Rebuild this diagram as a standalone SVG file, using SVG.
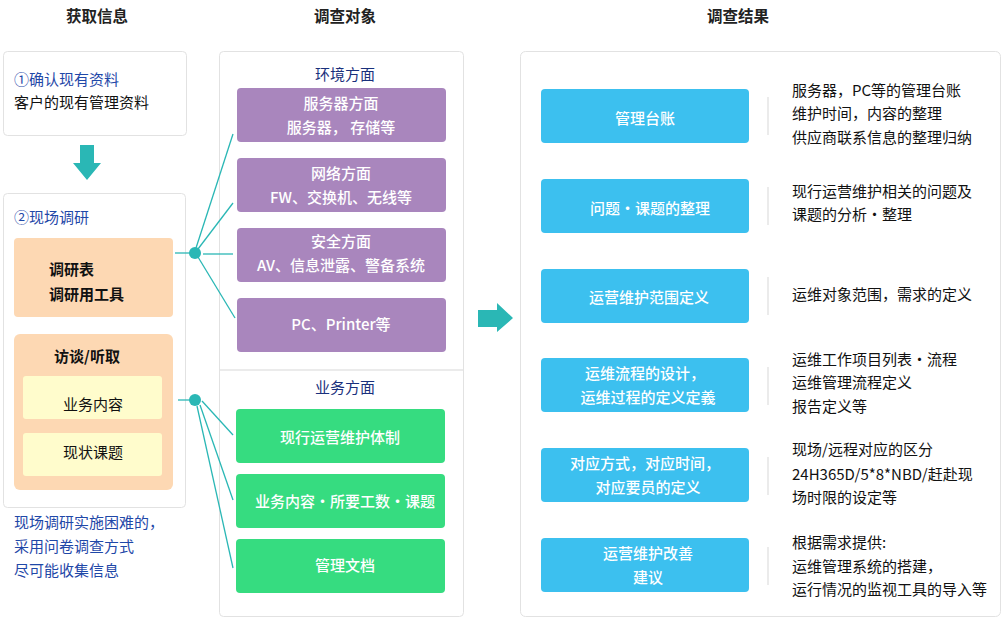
<svg xmlns="http://www.w3.org/2000/svg" width="1005" height="620" viewBox="0 0 1005 620">
<style>
text{font-family:"Noto Sans CJK SC","Liberation Sans",sans-serif;font-size:15px;}
.title{font-size:15.5px;font-weight:bold;fill:#222;}
.panel{fill:#fff;stroke:#e2e2e2;stroke-width:1;}
.blue{fill:#1f48a8;}
.navy{fill:#19307c;}
.blk{fill:#111;}
.bold{font-weight:bold;}
.w{fill:#fff;font-weight:500;}
.purple{fill:#a986bd;}
.green{fill:#36dc80;}
.sky{fill:#3cc0ef;}
.peach{fill:#fdd8b3;}
.yel{fill:#fffccc;}
.teal{fill:#2ab7b5;}
.conn{stroke:#2ab7b5;stroke-width:1.3;fill:none;}
.sep{stroke:#e4e4e4;stroke-width:1.5;}
</style>
<rect width="1005" height="620" fill="#fff"/>

<g id="titles">
<text class="title" x="97" y="22" text-anchor="middle">获取信息</text>
<text class="title" x="345" y="22" text-anchor="middle">调查对象</text>
<text class="title" x="738" y="22" text-anchor="middle">调查结果</text>
</g>

<g id="confirm">
<rect class="panel" x="3.5" y="51.5" width="183" height="84" rx="4"/>
<text class="blue" x="14" y="85">①确认现有资料</text>
<text class="blk" x="14" y="108">客户的现有管理资料</text>
</g>

<g id="arrow-down">
<polygon class="teal" points="80,145 94,145 94,163 101,163 87,180 73,163 80,163"/>
</g>

<g id="survey">
<rect class="panel" x="3.5" y="193.5" width="182" height="314" rx="4"/>
<text class="blue" x="14" y="223">②现场调研</text>
</g>

<g id="survey-form">
<rect class="peach" x="14" y="238" width="159" height="79" rx="4"/>
<text class="blk bold" x="49" y="275">调研表</text>
<text class="blk bold" x="49" y="300">调研用工具</text>
</g>

<g id="interview">
<rect class="peach" x="14" y="334" width="159" height="156" rx="6"/>
<text class="blk bold" x="87" y="362" text-anchor="middle">访谈/听取</text>
</g>
<g id="biz-content">
<rect class="yel" x="23" y="376" width="139" height="43" rx="3"/>
<text class="blk" x="93" y="410" text-anchor="middle">业务内容</text>
</g>
<g id="status-issue">
<rect class="yel" x="23" y="433" width="139" height="43" rx="3"/>
<text class="blk" x="93" y="458" text-anchor="middle">现状课题</text>
</g>

<g id="note">
<text class="blue" x="14" y="528">现场调研实施困难的，</text>
<text class="blue" x="14" y="552">采用问卷调查方式</text>
<text class="blue" x="14" y="576">尽可能收集信息</text>
</g>

<g id="targets">
<rect class="panel" x="219.5" y="51.5" width="244" height="565" rx="4"/>
<line class="sep" x1="220" y1="370" x2="463" y2="370" stroke-width="1"/>
<text class="navy" x="345" y="80" text-anchor="middle">环境方面</text>
<text class="navy" x="345" y="393" text-anchor="middle">业务方面</text>
</g>

<g id="env-server">
<rect class="purple" x="237" y="88" width="209" height="54" rx="4"/>
<text class="w" x="341" y="109" text-anchor="middle">服务器方面</text>
<text class="w" x="341" y="133" text-anchor="middle">服务器， 存储等</text>
</g>
<g id="env-network">
<rect class="purple" x="237" y="158" width="209" height="54" rx="4"/>
<text class="w" x="341" y="179" text-anchor="middle">网络方面</text>
<text class="w" x="341" y="203" text-anchor="middle">FW、交换机、无线等</text>
</g>
<g id="env-security">
<rect class="purple" x="237" y="228" width="209" height="54" rx="4"/>
<text class="w" x="341" y="247" text-anchor="middle">安全方面</text>
<text class="w" x="341" y="271" text-anchor="middle">AV、信息泄露、警备系统</text>
</g>
<g id="env-pc">
<rect class="purple" x="237" y="298" width="209" height="54" rx="4"/>
<text class="w" x="341" y="330" text-anchor="middle">PC、Printer等</text>
</g>

<g id="biz-system">
<rect class="green" x="236" y="409" width="209" height="54" rx="4"/>
<text class="w" x="340" y="443" text-anchor="middle">现行运营维护体制</text>
</g>
<g id="biz-workload">
<rect class="green" x="236" y="474" width="209" height="54" rx="4"/>
<text class="w" x="345" y="507" text-anchor="middle">业务内容・所要工数・课题</text>
</g>
<g id="biz-docs">
<rect class="green" x="236" y="539" width="209" height="54" rx="4"/>
<text class="w" x="345" y="571" text-anchor="middle">管理文档</text>
</g>

<g id="connectors">
<line class="conn" x1="175" y1="253" x2="190" y2="253"/>
<line class="conn" x1="196" y1="248" x2="233" y2="134"/>
<line class="conn" x1="198" y1="249" x2="233" y2="203"/>
<line class="conn" x1="203" y1="254" x2="233" y2="254"/>
<line class="conn" x1="198" y1="257" x2="235" y2="318"/>
<circle class="teal" cx="195" cy="253" r="6"/>
<line class="conn" x1="178" y1="400" x2="190" y2="400"/>
<line class="conn" x1="202" y1="401" x2="233" y2="435"/>
<line class="conn" x1="200" y1="405" x2="233" y2="500"/>
<line class="conn" x1="197" y1="406" x2="233" y2="568"/>
<circle class="teal" cx="195" cy="400" r="6"/>
</g>

<g id="arrow-right">
<polygon class="teal" points="478,310 497,310 497,303 513,318 497,332 497,327 478,327"/>
</g>

<g id="results">
<rect class="panel" x="520.5" y="51.5" width="480" height="565" rx="5"/>
</g>

<g id="r1">
<rect class="sky" x="541" y="89" width="208" height="54" rx="4"/>
<text class="w" x="645" y="124" text-anchor="middle">管理台账</text>
<line class="sep" x1="768" y1="97" x2="768" y2="135"/>
<text class="blk" x="792" y="96">服务器，PC等的管理台账</text>
<text class="blk" x="792" y="119">维护时间，内容的整理</text>
<text class="blk" x="792" y="143">供应商联系信息的整理归纳</text>
</g>
<g id="r2">
<rect class="sky" x="541" y="179" width="208" height="54" rx="4"/>
<text class="w" x="650" y="214" text-anchor="middle">问题・课题的整理</text>
<line class="sep" x1="768" y1="187" x2="768" y2="225"/>
<text class="blk" x="792" y="197">现行运营维护相关的问题及</text>
<text class="blk" x="792" y="220">课题的分析・整理</text>
</g>
<g id="r3">
<rect class="sky" x="541" y="269" width="208" height="54" rx="4"/>
<text class="w" x="649" y="303" text-anchor="middle">运营维护范围定义</text>
<line class="sep" x1="768" y1="277" x2="768" y2="315"/>
<text class="blk" x="792" y="300">运维对象范围，需求的定义</text>
</g>
<g id="r4">
<rect class="sky" x="541" y="358" width="208" height="54" rx="4"/>
<text class="w" x="645" y="379" text-anchor="middle">运维流程的设计，</text>
<text class="w" x="648" y="403" text-anchor="middle">运维过程的定义定義</text>
<line class="sep" x1="768" y1="367" x2="768" y2="405"/>
<text class="blk" x="792" y="365">运维工作项目列表・流程</text>
<text class="blk" x="792" y="388">运维管理流程定义</text>
<text class="blk" x="792" y="412">报告定义等</text>
</g>
<g id="r5">
<rect class="sky" x="541" y="448" width="208" height="54" rx="4"/>
<text class="w" x="645" y="469" text-anchor="middle">对应方式，对应时间，</text>
<text class="w" x="648" y="493" text-anchor="middle">对应要员的定义</text>
<line class="sep" x1="768" y1="457" x2="768" y2="495"/>
<text class="blk" x="792" y="455">现场/远程对应的区分</text>
<text class="blk" x="792" y="480">24H365D/5*8*NBD/赶赴现</text>
<text class="blk" x="792" y="503">场时限的设定等</text>
</g>
<g id="r6">
<rect class="sky" x="541" y="538" width="208" height="54" rx="4"/>
<text class="w" x="648" y="559" text-anchor="middle">运营维护改善</text>
<text class="w" x="648" y="583" text-anchor="middle">建议</text>
<line class="sep" x1="768" y1="547" x2="768" y2="585"/>
<text class="blk" x="792" y="548">根据需求提供:</text>
<text class="blk" x="792" y="572">运维管理系统的搭建，</text>
<text class="blk" x="792" y="595">运行情况的监视工具的导入等</text>
</g>
</svg>
